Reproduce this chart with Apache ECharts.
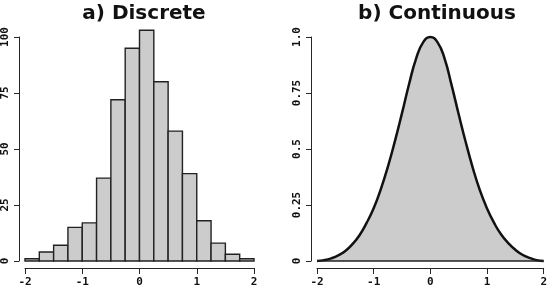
<!DOCTYPE html>
<html>
<head>
<meta charset="utf-8">
<script src="https://cdn.jsdelivr.net/npm/echarts@6/dist/echarts.min.js"></script>
<style>
  html, body { margin: 0; padding: 0; background: #fff; }
  #chart { width: 550px; height: 288px; }
</style>
</head>
<body>
<div id="chart"></div>
<script>
// a) histogram: bin edges and counts
const binEdges = [-2, -1.75, -1.5, -1.25, -1, -0.75, -0.5, -0.25, 0, 0.25, 0.5, 0.75, 1, 1.25, 1.5, 1.75, 2];
const binCounts = [1, 4, 7, 15, 17, 37, 72, 95, 103, 80, 58, 39, 18, 8, 3, 1];

// b) continuous density curve
const curveX = [-2, -1.875, -1.75, -1.625, -1.5, -1.375, -1.25, -1.125, -1, -0.875, -0.75, -0.625, -0.5, -0.375, -0.25, -0.125,
  0, 0.125, 0.25, 0.375, 0.5, 0.625, 0.75, 0.875, 1, 1.125, 1.25, 1.375, 1.5, 1.625, 1.75, 1.875, 2];
const curveY = [0, 0.004, 0.012, 0.025, 0.045, 0.075, 0.115, 0.17, 0.235, 0.32, 0.42, 0.535, 0.66, 0.79, 0.905, 0.977,
  1.0, 0.977, 0.905, 0.785, 0.655, 0.53, 0.415, 0.315, 0.235, 0.17, 0.118, 0.08, 0.05, 0.028, 0.014, 0.004, 0];

const xTickLabels = ['-2', '-1', '0', '1', '2'];
const leftTickLabels = ['0', '25', '50', '75', '100'];
const rightTickLabels = ['0', '0.25', '0.5', '0.75', '1.0'];

const bars = binCounts.map(function (c, i) { return [binEdges[i], binEdges[i + 1], c]; });
const curve = curveX.map(function (x, i) { return [x, curveY[i]]; });

const ink = '#262626';
const tickFont = { fontFamily: 'DejaVu Sans Mono', fontWeight: 'bold', fontSize: 11, color: '#111' };

function xAxis(gridIndex) {
  return {
    type: 'value', gridIndex: gridIndex, min: -2, max: 2, interval: 1, offset: 7,
    axisLine: { show: true, onZero: false, lineStyle: { color: ink, width: 1 } },
    axisTick: { show: true, length: 6, lineStyle: { color: ink, width: 1 } },
    axisLabel: Object.assign({ margin: 9, formatter: function (v, i) { return xTickLabels[i]; } }, tickFont),
    splitLine: { show: false }
  };
}
function yAxis(gridIndex, max, labels) {
  return {
    type: 'value', gridIndex: gridIndex, min: 0, max: max, interval: max / 4, offset: 6,
    axisLine: { show: true, onZero: false, lineStyle: { color: ink, width: 1 } },
    axisTick: { show: true, length: 5, lineStyle: { color: ink, width: 1 } },
    axisLabel: Object.assign({ rotate: 90, margin: 8, formatter: function (v, i) { return labels[i]; } }, tickFont),
    splitLine: { show: false }
  };
}

const chart = echarts.init(document.getElementById('chart'), null, { renderer: 'canvas' });
chart.setOption({
  animation: false,
  backgroundColor: '#fff',
  title: [
    { text: 'a) Discrete', left: 139, top: -1, textAlign: 'center',
      textStyle: { fontFamily: 'DejaVu Sans', fontWeight: 'bold', fontSize: 20, color: '#111' } },
    { text: 'b) Continuous', left: 432, top: -1, textAlign: 'center',
      textStyle: { fontFamily: 'DejaVu Sans', fontWeight: 'bold', fontSize: 20, color: '#111' } }
  ],
  grid: [
    { left: 23, width: 231, top: 37, height: 224 },
    { left: 317, width: 231, top: 37, height: 224 }
  ],
  xAxis: [xAxis(0), xAxis(1)],
  yAxis: [yAxis(0, 100, leftTickLabels), yAxis(1, 1, rightTickLabels)],
  series: [
    {
      type: 'custom', xAxisIndex: 0, yAxisIndex: 0, data: bars,
      encode: { x: [0, 1], y: 2 },
      renderItem: function (params, api) {
        const p0 = api.coord([api.value(0), 0]);
        const p1 = api.coord([api.value(1), api.value(2)]);
        return {
          type: 'rect',
          shape: { x: p0[0], y: p1[1], width: p1[0] - p0[0], height: p0[1] - p1[1] },
          style: { fill: '#cccccc', stroke: '#222', lineWidth: 1.4 }
        };
      }
    },
    {
      type: 'line', xAxisIndex: 1, yAxisIndex: 1, data: curve,
      smooth: true, showSymbol: false, clip: false,
      lineStyle: { color: '#111', width: 2.5 },
      areaStyle: { color: '#cccccc', opacity: 1 },
      markLine: {
        silent: true, symbol: 'none', label: { show: false },
        lineStyle: { color: '#222', width: 1.5, type: 'solid' },
        data: [{ yAxis: 0 }]
      }
    }
  ]
});
</script>
</body>
</html>
